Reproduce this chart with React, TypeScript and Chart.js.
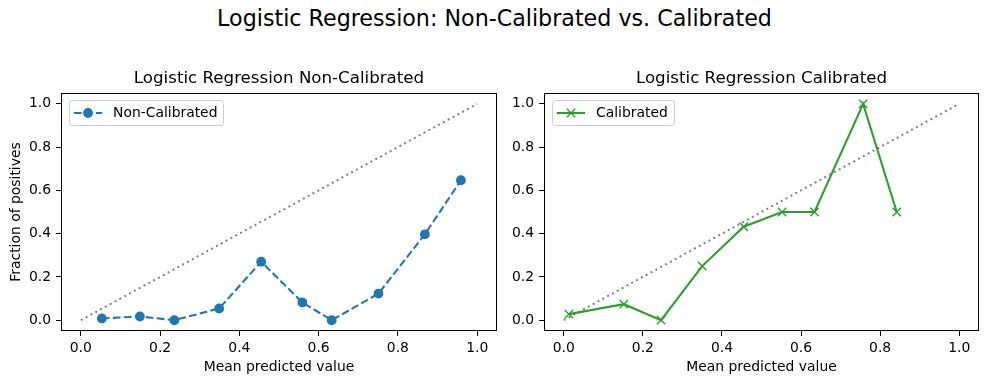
import React, { useEffect, useRef } from "react";
import { Chart, registerables } from "chart.js";

Chart.register(...registerables);

const FONT = "'DejaVu Sans', sans-serif";

const suptitle = "Logistic Regression: Non-Calibrated vs. Calibrated";
const leftTitle = "Logistic Regression Non-Calibrated";
const rightTitle = "Logistic Regression Calibrated";
const xAxisLabel = "Mean predicted value";
const yAxisLabel = "Fraction of positives";
const leftLegendLabel = "Non-Calibrated";
const rightLegendLabel = "Calibrated";

const tickValues = [0, 0.2, 0.4, 0.6, 0.8, 1.0];
const tickLabels = ["0.0", "0.2", "0.4", "0.6", "0.8", "1.0"];

const diagonalX = [0, 1];
const diagonalY = [0, 1];

const nonCalX = [0.053, 0.149, 0.236, 0.349, 0.455, 0.559, 0.633, 0.751, 0.868, 0.959];
const nonCalY = [0.008, 0.017, 0.0, 0.054, 0.27, 0.082, 0.0, 0.123, 0.397, 0.647];

const calX = [0.013, 0.152, 0.246, 0.35, 0.455, 0.552, 0.634, 0.757, 0.842];
const calY = [0.028, 0.074, 0.0, 0.25, 0.432, 0.5, 0.5, 1.0, 0.5];

const BLUE = "#1f77b4";
const GREEN = "#2ca02c";
const GRAY = "#808080";

const toPoints = (xs: number[], ys: number[]) => xs.map((x, i) => ({ x, y: ys[i] }));

const framePlugin = {
  id: "frameBox",
  afterDatasetsDraw(chart: any) {
    const { ctx, chartArea } = chart;
    ctx.save();
    ctx.strokeStyle = "#000";
    ctx.lineWidth = 1;
    const l = Math.round(chartArea.left) + 0.5;
    const t = Math.round(chartArea.top) + 0.5;
    const r = Math.round(chartArea.right) - 0.5;
    const b = Math.round(chartArea.bottom) - 0.5;
    ctx.strokeRect(l, t, r - l, b - t);
    ctx.restore();
  },
};

const legendPlugin = {
  id: "boxLegend",
  afterDraw(chart: any) {
    const { ctx, chartArea } = chart;
    const ds: any = chart.data.datasets[0];
    const fs = 13.9;
    ctx.save();
    ctx.font = `${fs}px ${FONT}`;
    const tw = ctx.measureText(ds.label).width;
    const x0 = chartArea.left + 7.5;
    const y0 = chartArea.top + 7;
    const pad = 5.5;
    const handleLen = 28;
    const gap = 11;
    const w = pad + handleLen + gap + tw + pad;
    const h = 25;
    ctx.beginPath();
    ctx.roundRect(Math.round(x0) + 0.5, Math.round(y0) + 0.5, Math.round(w), h, 3);
    ctx.fillStyle = "rgba(255,255,255,0.8)";
    ctx.fill();
    ctx.strokeStyle = "#cccccc";
    ctx.lineWidth = 1;
    ctx.stroke();
    const cy = y0 + h / 2 + 0.5;
    ctx.strokeStyle = ds.borderColor;
    ctx.lineWidth = ds.borderWidth;
    ctx.setLineDash(ds.borderDash || []);
    ctx.beginPath();
    ctx.moveTo(x0 + pad, cy);
    ctx.lineTo(x0 + pad + handleLen, cy);
    ctx.stroke();
    ctx.setLineDash([]);
    const mx = x0 + pad + handleLen / 2;
    if (ds.pointStyle === "crossRot") {
      const o = ds.pointRadius * Math.SQRT1_2;
      ctx.strokeStyle = ds.pointBorderColor;
      ctx.lineWidth = ds.pointBorderWidth;
      ctx.beginPath();
      ctx.moveTo(mx - o, cy - o);
      ctx.lineTo(mx + o, cy + o);
      ctx.moveTo(mx + o, cy - o);
      ctx.lineTo(mx - o, cy + o);
      ctx.stroke();
    } else {
      ctx.fillStyle = ds.pointBackgroundColor;
      ctx.strokeStyle = ds.pointBorderColor;
      ctx.lineWidth = ds.pointBorderWidth;
      ctx.beginPath();
      ctx.arc(mx, cy, ds.pointRadius, 0, Math.PI * 2);
      ctx.fill();
      ctx.stroke();
    }
    ctx.fillStyle = "#000";
    ctx.textBaseline = "middle";
    ctx.textAlign = "left";
    ctx.fillText(ds.label, x0 + pad + handleLen + gap, cy);
    ctx.restore();
  },
};

function makeConfig(opts: {
  title: string;
  dataset: any;
  yTitle: boolean;
  yWidth: number;
  padRight: number;
}) {
  const tickFont = { family: FONT, size: 13.9 };
  const gridCfg = {
    display: true,
    drawOnChartArea: false,
    drawTicks: true,
    tickLength: 5,
    tickColor: "#000",
    tickWidth: 1,
  };
  return {
    type: "scatter" as const,
    data: {
      datasets: [
        opts.dataset,
        {
          label: "diag",
          data: toPoints(diagonalX, diagonalY),
          showLine: true,
          borderColor: GRAY,
          borderWidth: 2,
          borderDash: [2, 3.5],
          pointRadius: 0,
          order: 2,
        },
      ],
    },
    options: {
      responsive: false,
      animation: false,
      devicePixelRatio: 1,
      events: [],
      layout: { padding: { left: 0, right: opts.padRight, top: 69, bottom: 0 } },
      plugins: {
        legend: { display: false },
        tooltip: { enabled: false },
        title: {
          display: true,
          text: opts.title,
          fullSize: false,
          color: "#000",
          font: { family: FONT, size: 16.67, weight: "normal" as const },
          padding: { top: 0, bottom: 4 },
        },
      },
      scales: {
        x: {
          type: "linear" as const,
          min: -0.05,
          max: 1.05,
          afterBuildTicks: (s: any) => {
            s.ticks = tickValues.map((v) => ({ value: v }));
          },
          afterFit: (s: any) => {
            s.height = 53;
          },
          ticks: {
            autoSkip: false,
            maxRotation: 0,
            padding: 4,
            color: "#000",
            font: tickFont,
            callback: (_v: any, i: number) => tickLabels[i],
          },
          grid: gridCfg,
          border: { display: false },
          title: {
            display: true,
            text: xAxisLabel,
            color: "#000",
            font: tickFont,
            padding: { top: 0, bottom: 8.7 },
          },
        },
        y: {
          type: "linear" as const,
          min: -0.05,
          max: 1.05,
          afterBuildTicks: (s: any) => {
            s.ticks = tickValues.map((v) => ({ value: v }));
          },
          afterFit: (s: any) => {
            s.width = opts.yWidth;
          },
          ticks: {
            autoSkip: false,
            padding: 5,
            color: "#000",
            font: tickFont,
            callback: (_v: any, i: number) => tickLabels[i],
          },
          grid: gridCfg,
          border: { display: false },
          title: {
            display: opts.yTitle,
            text: yAxisLabel,
            color: "#000",
            font: tickFont,
            padding: { top: 7.7, bottom: 0 },
          },
        },
      },
    },
    plugins: [framePlugin, legendPlugin],
  };
}

function CalibChart(props: {
  left: number;
  width: number;
  config: any;
}) {
  const ref = useRef<HTMLCanvasElement | null>(null);
  useEffect(() => {
    if (!ref.current) return;
    const chart = new Chart(ref.current, props.config);
    return () => chart.destroy();
  }, []);
  return (
    <canvas
      ref={ref}
      width={props.width}
      height={384}
      style={{ position: "absolute", left: props.left, top: 0, width: props.width, height: 384 }}
    />
  );
}

export default function App() {
  const leftConfig = makeConfig({
    title: leftTitle,
    yTitle: true,
    yWidth: 61,
    padRight: 13,
    dataset: {
      label: leftLegendLabel,
      data: toPoints(nonCalX, nonCalY),
      showLine: true,
      borderColor: BLUE,
      borderWidth: 2.08,
      borderDash: [7.7, 3.3],
      pointStyle: "circle",
      pointRadius: 4.2,
      pointBackgroundColor: BLUE,
      pointBorderColor: BLUE,
      pointBorderWidth: 1.4,
      order: 1,
    },
  });
  const rightConfig = makeConfig({
    title: rightTitle,
    yTitle: false,
    yWidth: 34,
    padRight: 10,
    dataset: {
      label: rightLegendLabel,
      data: toPoints(calX, calY),
      showLine: true,
      borderColor: GREEN,
      borderWidth: 2.08,
      pointStyle: "crossRot",
      pointRadius: 5.9,
      pointBackgroundColor: GREEN,
      pointBorderColor: GREEN,
      pointBorderWidth: 1.4,
      order: 1,
    },
  });
  return (
    <div
      style={{
        position: "absolute",
        left: 0,
        top: 0,
        width: 989,
        height: 384,
        background: "#fff",
        overflow: "hidden",
      }}
    >
      <div
        style={{
          position: "absolute",
          left: 0,
          top: 5,
          width: 989,
          textAlign: "center",
          fontFamily: FONT,
          fontSize: 22.2,
          lineHeight: "26px",
          color: "#000",
        }}
      >
        {suptitle}
      </div>
      <CalibChart left={0} width={510} config={leftConfig} />
      <CalibChart left={510} width={479} config={rightConfig} />
    </div>
  );
}
